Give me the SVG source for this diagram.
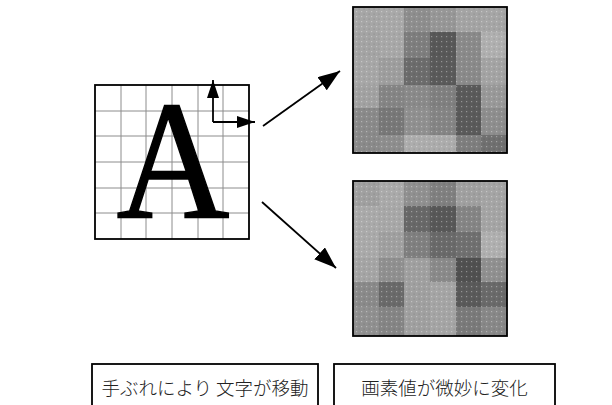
<svg xmlns="http://www.w3.org/2000/svg" width="612" height="405" viewBox="0 0 612 405">
<style>
.grid{stroke:#8c8c8c;stroke-width:1;fill:none}
.frame{stroke:#000;stroke-width:1.8;fill:none}
.arr{stroke:#000;stroke-width:1.8;fill:none}
.lbl{font-family:"Noto Sans CJK JP","Noto Sans CJK SC",sans-serif;font-size:18.5px;fill:#222;text-anchor:middle;font-weight:300}
.box{fill:#fff;stroke:#000;stroke-width:1.8}
</style>
<defs>
<marker id="ah" viewBox="0 0 22 16" refX="22" refY="8" markerWidth="22" markerHeight="16" markerUnits="userSpaceOnUse" orient="auto">
<path d="M0,0 L22,8 L0,16 Z" fill="#000"/>
</marker>
<marker id="ahs" viewBox="0 0 18 12" refX="18" refY="6" markerWidth="18" markerHeight="12" markerUnits="userSpaceOnUse" orient="auto">
<path d="M0,0 L18,6 L0,12 Z" fill="#000"/>
</marker>
<pattern id="dots" width="5" height="5" patternUnits="userSpaceOnUse">
<rect x="1" y="1" width="1.2" height="1.2" fill="#fff" fill-opacity="0.35"/>
<rect x="3.5" y="3.5" width="1.2" height="1.2" fill="#000" fill-opacity="0.12"/>
</pattern>
</defs>
<g id="source">
<rect x="95" y="85" width="154" height="154" fill="#fff"/>
<path class="grid" d="M121,85V239M146,85V239M172,85V239M198,85V239M223,85V239M95,111H249M95,136H249M95,162H249M95,188H249M95,213H249"/>
<text x="173" y="218" font-family="Liberation Serif,Times New Roman,serif" font-size="169" text-anchor="middle" textLength="113" lengthAdjust="spacingAndGlyphs" fill="#000" stroke="#000" stroke-width="1.5">A</text>
<rect class="frame" x="95" y="85" width="154" height="154"/>
</g>
<g id="result-top">
<rect x="353" y="7" width="26" height="25" fill="#a6a6a6"/>
<rect x="379" y="7" width="25" height="25" fill="#a9a9a9"/>
<rect x="404" y="7" width="26" height="25" fill="#8e8e8e"/>
<rect x="430" y="7" width="26" height="25" fill="#979797"/>
<rect x="456" y="7" width="25" height="25" fill="#a4a4a4"/>
<rect x="481" y="7" width="26" height="25" fill="#a6a6a6"/>
<rect x="353" y="32" width="26" height="26" fill="#a4a4a4"/>
<rect x="379" y="32" width="25" height="26" fill="#a8a8a8"/>
<rect x="404" y="32" width="26" height="26" fill="#7e7e7e"/>
<rect x="430" y="32" width="26" height="26" fill="#585858"/>
<rect x="456" y="32" width="25" height="26" fill="#8a8a8a"/>
<rect x="481" y="32" width="26" height="26" fill="#b0b0b0"/>
<rect x="353" y="58" width="26" height="27" fill="#a7a7a7"/>
<rect x="379" y="58" width="25" height="27" fill="#9e9e9e"/>
<rect x="404" y="58" width="26" height="27" fill="#6c6c6c"/>
<rect x="430" y="58" width="26" height="27" fill="#5a5a5a"/>
<rect x="456" y="58" width="25" height="27" fill="#8a8a8a"/>
<rect x="481" y="58" width="26" height="27" fill="#a4a4a4"/>
<rect x="353" y="85" width="26" height="23" fill="#a2a2a2"/>
<rect x="379" y="85" width="25" height="23" fill="#858585"/>
<rect x="404" y="85" width="26" height="23" fill="#8a8a8a"/>
<rect x="430" y="85" width="26" height="23" fill="#808080"/>
<rect x="456" y="85" width="25" height="23" fill="#5a5a5a"/>
<rect x="481" y="85" width="26" height="23" fill="#999"/>
<rect x="353" y="108" width="26" height="27" fill="#8a8a8a"/>
<rect x="379" y="108" width="25" height="27" fill="#787878"/>
<rect x="404" y="108" width="26" height="27" fill="#909090"/>
<rect x="430" y="108" width="26" height="27" fill="#858585"/>
<rect x="456" y="108" width="25" height="27" fill="#5a5a5a"/>
<rect x="481" y="108" width="26" height="27" fill="#8e8e8e"/>
<rect x="353" y="135" width="26" height="18" fill="#8a8a8a"/>
<rect x="379" y="135" width="25" height="18" fill="#8e8e8e"/>
<rect x="404" y="135" width="26" height="18" fill="#adadad"/>
<rect x="430" y="135" width="26" height="18" fill="#acacac"/>
<rect x="456" y="135" width="25" height="18" fill="#7e7e7e"/>
<rect x="481" y="135" width="26" height="18" fill="#707070"/>
<rect x="353" y="7" width="154" height="146" fill="url(#dots)"/>
<rect class="frame" x="353" y="7" width="154" height="146"/>
</g>
<g id="result-bottom">
<rect x="353" y="181" width="26" height="25" fill="#a0a0a0"/>
<rect x="379" y="181" width="25" height="25" fill="#aaaaaa"/>
<rect x="404" y="181" width="26" height="25" fill="#909090"/>
<rect x="430" y="181" width="26" height="25" fill="#808080"/>
<rect x="456" y="181" width="25" height="25" fill="#a0a0a0"/>
<rect x="481" y="181" width="26" height="25" fill="#a5a5a5"/>
<rect x="353" y="206" width="26" height="26" fill="#aaaaaa"/>
<rect x="379" y="206" width="25" height="26" fill="#a8a8a8"/>
<rect x="404" y="206" width="26" height="26" fill="#686868"/>
<rect x="430" y="206" width="26" height="26" fill="#585858"/>
<rect x="456" y="206" width="25" height="26" fill="#858585"/>
<rect x="481" y="206" width="26" height="26" fill="#a5a5a5"/>
<rect x="353" y="232" width="26" height="26" fill="#aaaaaa"/>
<rect x="379" y="232" width="25" height="26" fill="#a0a0a0"/>
<rect x="404" y="232" width="26" height="26" fill="#808080"/>
<rect x="430" y="232" width="26" height="26" fill="#6a6a6a"/>
<rect x="456" y="232" width="25" height="26" fill="#707070"/>
<rect x="481" y="232" width="26" height="26" fill="#b0b0b0"/>
<rect x="353" y="258" width="26" height="24" fill="#a5a5a5"/>
<rect x="379" y="258" width="25" height="24" fill="#909090"/>
<rect x="404" y="258" width="26" height="24" fill="#a0a0a0"/>
<rect x="430" y="258" width="26" height="24" fill="#8a8a8a"/>
<rect x="456" y="258" width="25" height="24" fill="#505050"/>
<rect x="481" y="258" width="26" height="24" fill="#909090"/>
<rect x="353" y="282" width="26" height="25" fill="#8a8a8a"/>
<rect x="379" y="282" width="25" height="25" fill="#6a6a6a"/>
<rect x="404" y="282" width="26" height="25" fill="#a0a0a0"/>
<rect x="430" y="282" width="26" height="25" fill="#a5a5a5"/>
<rect x="456" y="282" width="25" height="25" fill="#5a5a5a"/>
<rect x="481" y="282" width="26" height="25" fill="#6a6a6a"/>
<rect x="353" y="307" width="26" height="29" fill="#909090"/>
<rect x="379" y="307" width="25" height="29" fill="#858585"/>
<rect x="404" y="307" width="26" height="29" fill="#a0a0a0"/>
<rect x="430" y="307" width="26" height="29" fill="#a5a5a5"/>
<rect x="456" y="307" width="25" height="29" fill="#7a7a7a"/>
<rect x="481" y="307" width="26" height="29" fill="#888888"/>
<rect x="353" y="181" width="154" height="155" fill="url(#dots)"/>
<rect class="frame" x="353" y="181" width="154" height="155"/>
</g>
<g id="label-left">
<rect class="box" x="92" y="364" width="226" height="60"/>
<text class="lbl" x="205" y="395">手ぶれにより 文字が移動</text>
</g>
<g id="label-right">
<rect class="box" x="334" y="364" width="221" height="60"/>
<text class="lbl" x="444.5" y="395">画素値が微妙に変化</text>
</g>
<g id="connectors">
<path class="arr" d="M213,122V80" marker-end="url(#ahs)"/>
<path class="arr" d="M213,122H255" marker-end="url(#ahs)"/>
<path class="arr" d="M263,126L340,71" marker-end="url(#ah)"/>
<path class="arr" d="M262,202L336,268" marker-end="url(#ah)"/>
</g>
</svg>
